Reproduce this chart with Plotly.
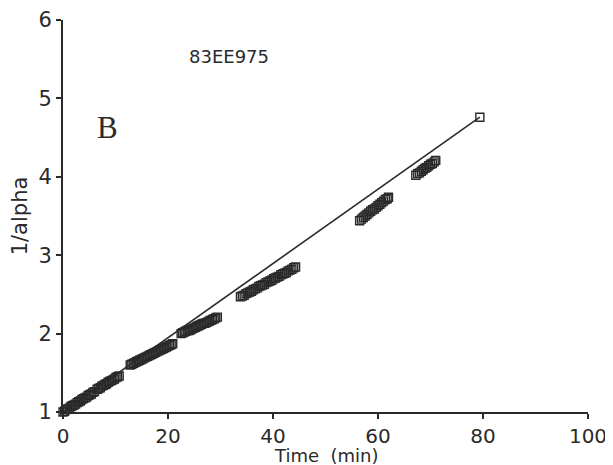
import plotly.graph_objects as go

# Data (time in min, 1/alpha)
t_a = [0.0, 0.3, 0.6, 0.9, 1.2, 1.5, 1.8, 2.1, 2.4, 2.7, 3.0, 3.3, 3.6, 3.9, 4.2,
       4.5, 4.8, 5.1, 5.4, 5.7, 6.0]
y_a = [1.00, 1.01, 1.03, 1.04, 1.05, 1.07, 1.08, 1.09, 1.10, 1.12, 1.13, 1.14, 1.16,
       1.17, 1.18, 1.19, 1.21, 1.22, 1.23, 1.25, 1.26]
t_b = [6.5, 6.8, 7.1, 7.4, 7.7, 8.0, 8.3, 8.6, 8.9, 9.2, 9.5, 9.8, 10.1, 10.4, 10.7]
y_b = [1.29, 1.30, 1.31, 1.33, 1.34, 1.35, 1.36, 1.38, 1.39, 1.40, 1.41, 1.42, 1.44,
       1.45, 1.46]
t_c = [12.8, 13.1, 13.4, 13.7, 14.0, 14.3, 14.6, 14.9, 15.2, 15.5, 15.8, 16.1, 16.4,
       16.7, 17.0, 17.3, 17.6, 17.9, 18.2, 18.5, 18.8, 19.1, 19.4, 19.7, 20.0, 20.3,
       20.6, 20.9]
y_c = [1.60, 1.61, 1.62, 1.63, 1.64, 1.65, 1.66, 1.67, 1.68, 1.69, 1.70, 1.71, 1.72,
       1.73, 1.74, 1.75, 1.76, 1.77, 1.78, 1.79, 1.80, 1.81, 1.82, 1.83, 1.84, 1.85,
       1.86, 1.87]
t_d = [22.5, 22.8, 23.1, 23.4, 23.7, 24.0, 24.3, 24.6, 24.9, 25.2, 25.5, 25.8, 26.1,
       26.4, 26.7, 27.0, 27.3, 27.6, 27.9, 28.2, 28.5, 28.8, 29.1, 29.4]
y_d = [2.00, 2.01, 2.02, 2.03, 2.04, 2.04, 2.05, 2.06, 2.07, 2.08, 2.09, 2.10, 2.11,
       2.12, 2.13, 2.13, 2.14, 2.15, 2.16, 2.17, 2.18, 2.19, 2.20, 2.21]
t_e = [33.8, 34.15, 34.5, 34.85, 35.2, 35.55, 35.9, 36.25, 36.6, 36.95, 37.3, 37.65,
       38.0, 38.35, 38.7, 39.05, 39.4, 39.75, 40.1, 40.45, 40.8, 41.15, 41.5, 41.85,
       42.2, 42.55, 42.9, 43.25, 43.6, 43.95, 44.3]
y_e = [2.47, 2.48, 2.49, 2.51, 2.52, 2.53, 2.54, 2.56, 2.57, 2.58, 2.60, 2.61, 2.62,
       2.63, 2.65, 2.66, 2.67, 2.68, 2.70, 2.71, 2.72, 2.73, 2.75, 2.76, 2.77, 2.78,
       2.80, 2.81, 2.82, 2.84, 2.85]
t_f = [56.5, 56.85, 57.2, 57.55, 57.9, 58.25, 58.6, 58.95, 59.3, 59.65, 60.0, 60.35,
       60.7, 61.05, 61.4, 61.75, 62.0]
y_f = [3.44, 3.46, 3.48, 3.50, 3.52, 3.54, 3.56, 3.58, 3.59, 3.61, 3.63, 3.65, 3.67,
       3.69, 3.71, 3.72, 3.74]
t_g = [67.2, 67.55, 67.9, 68.25, 68.6, 68.95, 69.3, 69.65, 70.0, 70.35, 70.7, 71.0]
y_g = [4.02, 4.04, 4.05, 4.07, 4.09, 4.11, 4.12, 4.14, 4.16, 4.17, 4.19, 4.21]
t_h = [79.4]
y_h = [4.76]

fit_t = [0.0, 79.4]
fit_y = [1.0, 4.76]

x_ticks = [0, 20, 40, 60, 80, 100]
y_ticks = [1, 2, 3, 4, 5, 6]

times = t_a + t_b + t_c + t_d + t_e + t_f + t_g + t_h
vals = y_a + y_b + y_c + y_d + y_e + y_f + y_g + y_h

ink = "#2a2a2a"
sans = "DejaVu Sans"
fig = go.Figure()
fig.add_trace(go.Scatter(x=fit_t, y=fit_y, mode="lines",
                         line=dict(color=ink, width=1.6), cliponaxis=False,
                         showlegend=False, hoverinfo="skip"))
fig.add_trace(go.Scatter(x=times, y=vals, mode="markers",
                         marker=dict(symbol="square-open", size=8, color=ink,
                                     line=dict(width=1.4, color=ink)),
                         cliponaxis=False, showlegend=False))

fig.add_annotation(x=31.7, y=5.53, text="83EE975", showarrow=False,
                   font=dict(family=sans, size=18, color=ink))
fig.add_annotation(x=8.4, y=4.63, text="B", showarrow=False,
                   font=dict(family="Liberation Serif", size=31, color=ink))
# x-axis title placed just under the tick labels
fig.add_annotation(x=50, xref="x", y=0, yref="paper", yanchor="top", yshift=-31,
                   text="Time  (min)", showarrow=False,
                   font=dict(family=sans, size=18, color=ink))

axis_common = dict(showline=True, linecolor=ink, linewidth=2, ticks="outside",
                   ticklen=5, tickwidth=1.5, tickcolor=ink, showgrid=False,
                   zeroline=False, automargin=False, ticklabeloverflow="allow",
                   mirror=False)

fig.update_xaxes(range=[0, 100], tickvals=x_ticks, ticktext=[str(v) for v in x_ticks],
                 tickfont=dict(family=sans, size=20, color=ink),
                 **axis_common)
fig.update_yaxes(range=[1, 6], tickvals=y_ticks, ticktext=[str(v) for v in y_ticks],
                 tickfont=dict(family=sans, size=21, color=ink),
                 title=dict(text="1/alpha", standoff=10,
                            font=dict(family=sans, size=21, color=ink)),
                 **axis_common)

# The page body adds an 8 px margin, so the figure is sized to fit the window.
fig.update_layout(width=605, height=457, plot_bgcolor="white", paper_bgcolor="white",
                  margin=dict(l=55, r=25, t=12, b=53))

fig.write_html("out.html")
